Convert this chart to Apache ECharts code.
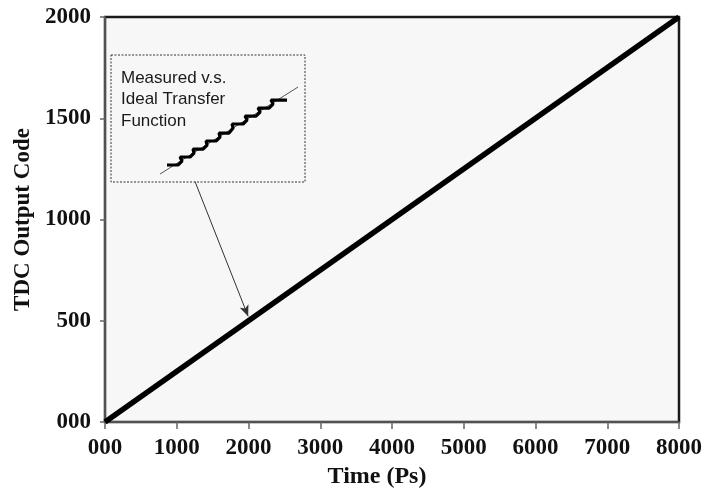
<!DOCTYPE html>
<html>
<head>
<meta charset="utf-8">
<script src="https://cdn.jsdelivr.net/npm/echarts@6/dist/echarts.min.js"></script>
<style>html,body{margin:0;padding:0;background:#fff;}#c{width:717px;height:489px;}</style>
</head>
<body>
<div id="c"></div>
<script>
// ---- data ----
var xTickLabels = ['000', '1000', '2000', '3000', '4000', '5000', '6000', '7000', '8000'];
var yTickLabels = ['000', '500', '1000', '1500', '2000'];
var transferTime = [0, 8000];      // ps
var transferCode = [0, 2000];      // output code
var arrowFrom = [1255, 1187];      // annotation arrow start (time, code)
var arrowTo = [1995, 522];         // annotation arrow tip (time, code)
// inset (local units)
var insetIdealX = [3.79, 14.46];
var insetIdealY = [1.13, 13.46];
var insetStepX = [4.33, 5.18, 5.49, 5.34, 6.11, 6.42, 6.34, 7.12, 7.43, 7.35, 8.12, 8.43, 8.35, 9.13, 9.44, 9.36, 10.21, 10.52, 10.36, 11.21, 11.53, 11.37, 12.22, 12.53, 12.37, 13.61];
var insetStepY = [2.41, 2.41, 2.97, 3.54, 3.54, 4.11, 4.67, 4.67, 5.24, 5.81, 5.81, 6.37, 6.94, 6.94, 7.65, 8.22, 8.22, 8.78, 9.35, 9.35, 9.92, 10.48, 10.48, 11.05, 11.61, 11.61];

function zip(a, b) { return a.map(function (v, i) { return [v, b[i]]; }); }

var serif = '"Liberation Serif", "Times New Roman", serif';
var sans = '"Liberation Sans", Arial, sans-serif';

var chart = echarts.init(document.getElementById('c'), null, { renderer: 'canvas' });
chart.setOption({
  animation: false,
  backgroundColor: '#ffffff',
  title: {
    text: 'Measured v.s.\nIdeal Transfer\nFunction',
    left: 121, top: 67, padding: 0,
    textStyle: { fontFamily: sans, fontSize: 17, fontWeight: 'normal', color: '#1a1a1a', lineHeight: 21.7 }
  },
  grid: [
    { left: 105, right: 38, top: 17, bottom: 67, containLabel: false, outerBoundsMode: 'none', show: true, backgroundColor: '#f7f7f7', borderColor: '#1a1a1a', borderWidth: 2.5 },
    { left: 111, top: 55, width: 194, height: 127, containLabel: false, outerBoundsMode: 'none', show: false }
  ],
  graphic: [
    { type: 'rect', shape: { x: 111, y: 55, width: 194, height: 127 }, style: { fill: 'none', stroke: '#333', lineWidth: 1, lineDash: [2, 1.5] }, z: 5 }
  ],
  xAxis: [
    {
      type: 'value', gridIndex: 0, min: 0, max: 8000, interval: 1000, offset: 4,
      name: 'Time (Ps)', nameLocation: 'middle', nameGap: 36,
      nameTextStyle: { fontFamily: serif, fontSize: 24, fontWeight: 'bold', color: '#111', padding: [0, 30, 0, 0] },
      axisLine: { show: true, lineStyle: { color: '#666', width: 1.5 } },
      axisTick: { show: true, length: 7, lineStyle: { color: '#666', width: 1.5 } },
      splitLine: { show: false },
      axisLabel: {
        margin: 11, fontFamily: serif, fontSize: 23, fontWeight: 'bold', color: '#111',
        formatter: function (v) { return xTickLabels[Math.round(v / 1000)]; }
      }
    },
    { type: 'value', gridIndex: 1, min: 0, max: 15, show: false }
  ],
  yAxis: [
    {
      type: 'value', gridIndex: 0, min: 0, max: 2000, interval: 500, offset: 3,
      name: 'TDC Output Code', nameLocation: 'middle', nameGap: 62,
      nameTextStyle: { fontFamily: serif, fontSize: 23, fontWeight: 'bold', color: '#111' },
      axisLine: { show: true, lineStyle: { color: '#666', width: 1.5 } },
      axisTick: { show: true, length: 5, lineStyle: { color: '#666', width: 1.5 } },
      splitLine: { show: false },
      axisLabel: {
        margin: 11, fontFamily: serif, fontSize: 23, fontWeight: 'bold', color: '#111',
        formatter: function (v) { return yTickLabels[Math.round(v / 500)]; }
      }
    },
    { type: 'value', gridIndex: 1, min: 0, max: 18, show: false }
  ],
  series: [
    {
      type: 'line', xAxisIndex: 0, yAxisIndex: 0, data: zip(transferTime, transferCode),
      symbol: 'none', lineStyle: { color: '#000', width: 5.5 }, z: 3,
      markLine: {
        silent: true, symbol: ['none', 'arrow'], symbolSize: [7, 11],
        label: { show: false },
        lineStyle: { color: '#333', width: 1, type: 'solid' },
        data: [[{ coord: arrowFrom }, { coord: arrowTo }]]
      }
    },
    {
      type: 'line', xAxisIndex: 1, yAxisIndex: 1, data: zip(insetIdealX, insetIdealY),
      symbol: 'none', lineStyle: { color: '#555', width: 1 }, z: 4
    },
    {
      type: 'line', xAxisIndex: 1, yAxisIndex: 1, data: zip(insetStepX, insetStepY),
      symbol: 'none', lineStyle: { color: '#000', width: 3.2 }, z: 5
    }
  ]
});
</script>
</body>
</html>
